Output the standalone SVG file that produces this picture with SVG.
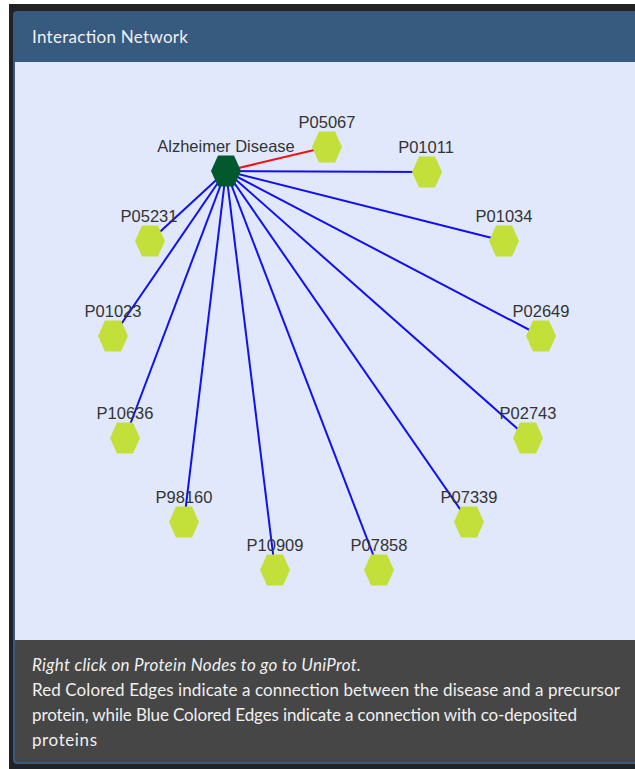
<svg xmlns="http://www.w3.org/2000/svg" xmlns:xlink="http://www.w3.org/1999/xlink" width="635" height="769" viewBox="0 0 635 769">
<style>
.lbl{font-family:"Liberation Sans",Arial,sans-serif;font-size:16.5px;fill:#333;text-anchor:middle}
.prot{fill:#c3e03a}
.dis{fill:#03582e}
.blue{stroke:#1010f0;stroke-width:2;fill:none}
.red{stroke:#f01010;stroke-width:2;fill:none}
.ui{font-family:Lato,"Open Sans",sans-serif;font-size:17px;fill:#f0f0f0}
</style>
<defs>
<polygon id="hex" points="-15,0 -8,-15.5 8,-15.5 15,0 8,15.5 -8,15.5"/>
</defs>
<rect x="0" y="0" width="635" height="769" fill="#ffffff"/>
<rect x="9" y="4" width="626" height="765" fill="#222222"/>
<rect x="13" y="11" width="640" height="753" rx="4" fill="#375a7f"/>
<rect x="15" y="62" width="630" height="578" fill="#e1e8fb"/>
<rect x="15" y="640" width="630" height="122" rx="3" fill="#464646"/>
<text class="ui" x="32" y="43" textLength="156">Interaction Network</text>
<text class="ui" x="32" y="671" font-style="italic" textLength="329">Right click on Protein Nodes to go to UniProt.</text>
<text class="ui" x="32" y="696" textLength="588">Red Colored Edges indicate a connection between the disease and a precursor</text>
<text class="ui" x="32" y="721" textLength="545">protein, while Blue Colored Edges indicate a connection with co-deposited</text>
<text class="ui" x="32" y="746" textLength="65">proteins</text>
<g id="edges">
<line class="red" x1="226" y1="171" x2="327" y2="147"/>
<line class="blue" x1="226" y1="171" x2="427" y2="172"/>
<line class="blue" x1="226" y1="171" x2="504" y2="241"/>
<line class="blue" x1="226" y1="171" x2="541" y2="336"/>
<line class="blue" x1="226" y1="171" x2="528" y2="438"/>
<line class="blue" x1="226" y1="171" x2="469" y2="522"/>
<line class="blue" x1="226" y1="171" x2="379" y2="570"/>
<line class="blue" x1="226" y1="171" x2="275" y2="570"/>
<line class="blue" x1="226" y1="171" x2="184" y2="522"/>
<line class="blue" x1="226" y1="171" x2="125" y2="438"/>
<line class="blue" x1="226" y1="171" x2="113" y2="336"/>
<line class="blue" x1="226" y1="171" x2="150" y2="241"/>
</g>
<g id="alzheimer"><use xlink:href="#hex" class="dis" x="226" y="171"/><text class="lbl" x="226" y="152">Alzheimer Disease</text></g>
<g id="P05067"><use xlink:href="#hex" class="prot" x="327" y="147"/><text class="lbl" x="327" y="128">P05067</text></g>
<g id="P01011"><use xlink:href="#hex" class="prot" x="427" y="172"/><text class="lbl" x="426" y="153">P01011</text></g>
<g id="P01034"><use xlink:href="#hex" class="prot" x="504" y="241"/><text class="lbl" x="504" y="222">P01034</text></g>
<g id="P02649"><use xlink:href="#hex" class="prot" x="541" y="336"/><text class="lbl" x="541" y="317">P02649</text></g>
<g id="P02743"><use xlink:href="#hex" class="prot" x="528" y="438"/><text class="lbl" x="528" y="419">P02743</text></g>
<g id="P07339"><use xlink:href="#hex" class="prot" x="469" y="522"/><text class="lbl" x="469" y="503">P07339</text></g>
<g id="P07858"><use xlink:href="#hex" class="prot" x="379" y="570"/><text class="lbl" x="379" y="551">P07858</text></g>
<g id="P10909"><use xlink:href="#hex" class="prot" x="275" y="570"/><text class="lbl" x="275" y="551">P10909</text></g>
<g id="P98160"><use xlink:href="#hex" class="prot" x="184" y="522"/><text class="lbl" x="184" y="503">P98160</text></g>
<g id="P10636"><use xlink:href="#hex" class="prot" x="125" y="438"/><text class="lbl" x="125" y="419">P10636</text></g>
<g id="P01023"><use xlink:href="#hex" class="prot" x="113" y="336"/><text class="lbl" x="113" y="317">P01023</text></g>
<g id="P05231"><use xlink:href="#hex" class="prot" x="150" y="241"/><text class="lbl" x="149" y="222">P05231</text></g>
</svg>
